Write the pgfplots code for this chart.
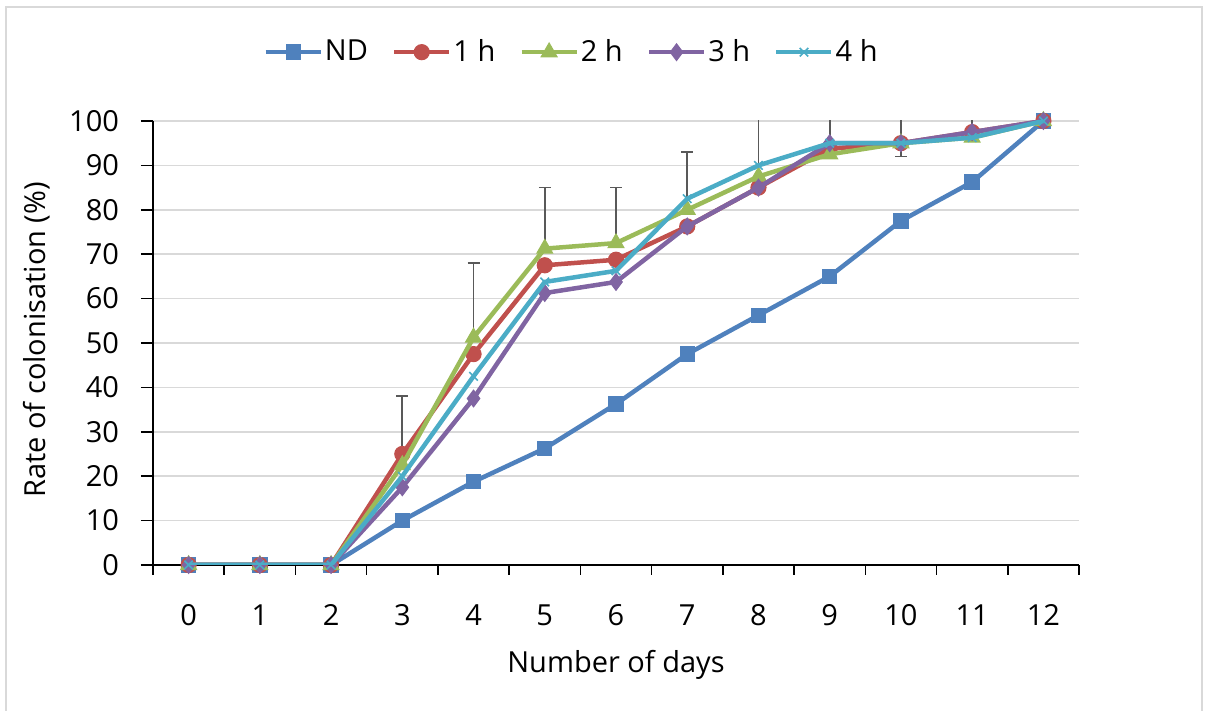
\documentclass[border=0pt]{standalone}
\usepackage{pgfplots}
\pgfplotsset{compat=1.18}
\usepackage{fontspec}
\setmainfont{Open Sans}
\definecolor{cND}{HTML}{4F81BD}
\definecolor{cA}{HTML}{C0504D}
\definecolor{cB}{HTML}{9BBB59}
\definecolor{cC}{HTML}{8064A2}
\definecolor{cD}{HTML}{4BACC6}
\definecolor{gridc}{HTML}{D9D9D9}
\definecolor{errc}{HTML}{595959}
\begin{document}
\fontsize{14.5pt}{17pt}\selectfont
\begin{tikzpicture}
\useasboundingbox (0,0) rectangle (602.5pt,355.5pt);
\draw[gridc, line width=0.75pt] (3pt,0) -- (3pt,352pt) -- (601pt,352pt) -- (601pt,0);
\begin{axis}[
  at={(76.5pt,73pt)}, anchor=south west,
  scale only axis, width=463pt, height=222pt,
  xmin=-0.5, xmax=12.5, ymin=0, ymax=100,
  xtick={0,...,12}, minor xtick={-0.5,0.5,...,12.5},
  ytick={0,10,...,100},
  axis lines*=left,
  tick align=outside,
  major tick length=6pt, minor tick length=5pt,
  major x tick style={draw=none},
  tick style={black, line width=0.75pt},
  minor tick style={black, line width=0.75pt},
  ymajorgrids, grid style={gridc, line width=0.75pt},
  axis line style={black, line width=0.75pt},
  /pgf/number format/assume math mode=true,
  ticklabel style={font=\fontsize{14.5pt}{17pt}\selectfont},
  xticklabel style={anchor=center, yshift=-19pt},
  yticklabel style={anchor=east, xshift=-6pt},
  xlabel={Number of days},
  ylabel={Rate of colonisation (\%)},
  xlabel style={at={(axis description cs:0.5,-0.2252)}, anchor=center},
  ylabel style={at={(axis description cs:-0.1253,0.507)}, anchor=center},
  clip mode=individual,
  legend columns=5,
  legend style={at={(0.452,1.155)}, anchor=center, draw=none, fill=none,
    font=\fontsize{14.5pt}{17pt}\selectfont,
    nodes={inner xsep=1pt},
    /tikz/every even column/.append style={column sep=11pt}},
  legend image code/.code={
    \draw[mark repeat=2, mark phase=2] plot coordinates {(0pt,0pt) (13.75pt,0pt) (27.5pt,0pt)};
  },
]
% error bars
\addplot[forget plot, draw=none, mark=none,
  error bars/.cd, y dir=plus, y explicit, error mark=|,
  error mark options={draw=errc, mark size=3pt, line width=0.9pt},
  error bar style={draw=errc, line width=0.9pt}]
  coordinates {
  (3,25) +- (0,13)
  (4,51.25) +- (0,16.75)
  (5,71.25) +- (0,13.75)
  (6,72.5) +- (0,12.5)
  (7,82.5) +- (0,10.5)
  (8,90) +- (0,15)
  (9,95) +- (0,10)
  (10,95) +- (0,10)
  (11,97.5) +- (0,8)
  };
\addplot[forget plot, draw=none, mark=none,
  error bars/.cd, y dir=minus, y explicit, error mark=|,
  error mark options={draw=errc, mark size=3pt, line width=0.9pt},
  error bar style={draw=errc, line width=0.9pt}]
  coordinates {(10,95) +- (0,3)};
\addplot[cND, line width=2.25pt, mark=square*, mark size=3.6pt, mark options={solid, fill=cND, draw=cND, line width=0.5pt}]
  coordinates {(0,0)(1,0)(2,0)(3,10)(4,18.75)(5,26.25)(6,36.25)(7,47.5)(8,56.25)(9,65)(10,77.5)(11,86.25)(12,100)};
\addlegendentry{ND}
\addplot[cA, line width=2.25pt, mark=*, mark size=3.8pt, mark options={solid, fill=cA, draw=cA, line width=0.5pt}]
  coordinates {(0,0)(1,0)(2,0)(3,25)(4,47.5)(5,67.5)(6,68.75)(7,76.25)(8,85)(9,93.75)(10,95)(11,97.5)(12,100)};
\addlegendentry{1 h}
\addplot[cB, line width=2.25pt, mark=triangle*, mark size=4.6pt, mark options={solid, fill=cB, draw=cB, line width=0.5pt}]
  coordinates {(0,0)(1,0)(2,0)(3,22.5)(4,51.25)(5,71.25)(6,72.5)(7,80)(8,87.5)(9,92.5)(10,95)(11,96.25)(12,100)};
\addlegendentry{2 h}
\addplot[cC, line width=2.25pt, mark=diamond*, mark size=4.2pt, mark options={solid, fill=cC, draw=cC, line width=0.5pt}]
  coordinates {(0,0)(1,0)(2,0)(3,17.5)(4,37.5)(5,61.25)(6,63.75)(7,76.25)(8,85)(9,95)(10,95)(11,97.5)(12,100)};
\addlegendentry{3 h}
\addplot[cD, line width=2.25pt, mark=x, mark size=3pt, mark options={solid, draw=cD, line width=0.8pt}]
  coordinates {(0,0)(1,0)(2,0)(3,20)(4,42.5)(5,63.75)(6,66.25)(7,82.5)(8,90)(9,95)(10,95)(11,96.25)(12,100)};
\addlegendentry{4 h}
\end{axis}
\end{tikzpicture}
\end{document}
